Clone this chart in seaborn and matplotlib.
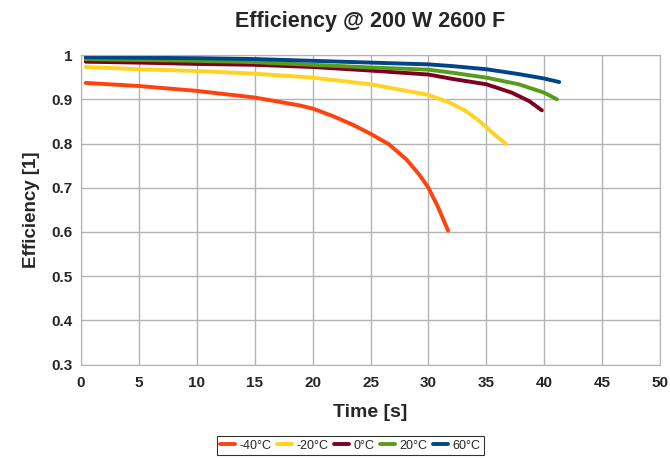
import pandas as pd
import matplotlib
matplotlib.use("Agg")
import matplotlib.pyplot as plt
import seaborn as sns

# values
t_m40 = [0.4, 5, 10, 15, 18.9, 20, 21.75, 23.5, 25, 26.6, 28.1, 29.2, 30, 30.8, 31.7]
e_m40 = [0.937, 0.930, 0.919, 0.904, 0.886, 0.879, 0.862, 0.842, 0.822, 0.798, 0.764,
         0.730, 0.700, 0.658, 0.603]

t_m20 = [0.4, 5, 10, 15, 20, 25, 27.5, 30, 31.8, 33.2, 34.4, 35.5, 36.7]
e_m20 = [0.973, 0.968, 0.964, 0.958, 0.949, 0.934, 0.922, 0.910, 0.893, 0.874, 0.851,
         0.825, 0.799]

t_0 = [0.4, 5, 10, 15, 20, 25, 30, 32.1, 35, 37.2, 38.7, 39.8]
e_0 = [0.985, 0.983, 0.980, 0.978, 0.973, 0.965, 0.956, 0.946, 0.934, 0.915, 0.896, 0.875]

t_20 = [0.4, 5, 10, 15, 20, 25, 30, 32.1, 35, 37.8, 40, 41.1]
e_20 = [0.991, 0.989, 0.987, 0.984, 0.978, 0.972, 0.967, 0.960, 0.949, 0.934, 0.915, 0.900]

t_60 = [0.4, 5, 10, 15, 20, 25, 30, 32.1, 35, 37.8, 40, 41.3]
e_60 = [0.995, 0.994, 0.993, 0.991, 0.987, 0.983, 0.979, 0.975, 0.968, 0.957, 0.947, 0.939]

labels = ["-40°C", "-20°C", "0°C", "20°C", "60°C"]
colors = ["#ff420e", "#ffd320", "#7e0021", "#579d1c", "#004586"]

series = [(t_m40, e_m40), (t_m20, e_m20), (t_0, e_0), (t_20, e_20), (t_60, e_60)]
frames = []
for lab, (t, e) in zip(labels, series):
    frames.append(pd.DataFrame({"time": t, "eff": e, "temp": lab}))
df = pd.concat(frames, ignore_index=True)

sns.set_style("white")
plt.rcParams["font.family"] = ["Liberation Sans", "DejaVu Sans"]

fig = plt.figure(figsize=(6.7, 4.59), dpi=100)
ax = fig.add_axes([0.121, 0.2057, 0.864, 0.6743])

sns.lineplot(data=df, x="time", y="eff", hue="temp", hue_order=labels,
             palette=colors, linewidth=2.8, ax=ax, sort=False, estimator=None)

ax.set_xlim(0, 50)
ax.set_ylim(0.3, 1)
ax.set_xticks(range(0, 51, 5))
ax.set_yticks([0.3, 0.4, 0.5, 0.6, 0.7, 0.8, 0.9, 1.0])
ax.set_yticklabels(["0.3", "0.4", "0.5", "0.6", "0.7", "0.8", "0.9", "1"])
ax.grid(True, color="#b3b3b3", linewidth=1)
ax.set_axisbelow(True)
for s in ax.spines.values():
    s.set_color("#b3b3b3")
ax.tick_params(axis="both", length=4, color="#b3b3b3", labelsize=11)
ax.tick_params(axis="x", pad=4)
ax.tick_params(axis="y", pad=2)
for lbl in ax.get_xticklabels() + ax.get_yticklabels():
    lbl.set_fontweight("bold")

ax.set_title("Efficiency @ 200 W 2600 F", fontsize=15.5, fontweight="bold", pad=20)
ax.set_xlabel("Time [s]", fontsize=14, fontweight="bold", labelpad=10)
ax.set_ylabel("Efficiency [1]", fontsize=13.5, fontweight="bold", labelpad=8)

handles, _ = ax.get_legend_handles_labels()
leg = ax.legend(handles=handles, labels=labels, loc="center", bbox_to_anchor=(0.465, -0.262),
                ncol=5, frameon=True, handlelength=1.2, handletextpad=0.3,
                columnspacing=0.5, borderpad=0.3, fancybox=False, edgecolor="black",
                prop={"size": 9})
leg.get_frame().set_linewidth(0.8)

fig.savefig("out.png", dpi=100)
